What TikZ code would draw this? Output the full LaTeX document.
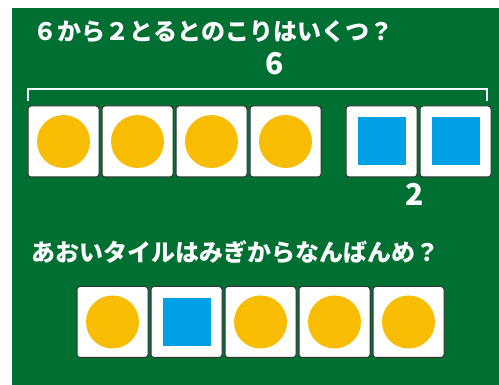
\documentclass[tikz,border=0pt]{standalone}
\usepackage{fontspec}
\newfontfamily\jpfont{Noto Sans CJK JP}
\usetikzlibrary{positioning}
\definecolor{board}{RGB}{0,112,50}
\definecolor{ballcol}{RGB}{248,188,0}
\definecolor{tilecol}{RGB}{0,160,230}

\begin{document}
\begin{tikzpicture}[x=1pt,y=-1pt]
     \tikzstyle{every node}=[font=\jpfont\bfseries\fontsize{24}{24}\selectfont,text=white]
     \tikzstyle{num}=[font=\jpfont\bfseries\fontsize{30}{30}\selectfont]
     \tikzstyle{tile}=[draw=black!80,fill=white,line width=1pt,rounded corners=3pt,minimum size=71pt,inner sep=0pt]
     \tikzstyle{ball}=[circle,fill=ballcol,minimum size=53pt,inner sep=0pt]
     \tikzstyle{sq}=[fill=tilecol,minimum size=48pt,inner sep=0pt]
      \useasboundingbox (0,0) rectangle (499,385);
      \fill [board] (12,8) rectangle (499,385);
      % question 1
      \node [anchor=west] (q1) at (30,32) {６から２とるとのこりはいくつ？};
      \node [tile] (a1) at (63.5,141.5) {};
      \node [tile,right=2pt of a1] (a2) {};
      \node [tile,right=2pt of a2] (a3) {};
      \node [tile,right=2pt of a3] (a4) {};
      \node [tile,right=24pt of a4] (a5) {};
      \node [tile,right=2pt of a5] (a6) {};
      \node [ball] at (a1) {};
      \node [ball] at (a2) {};
      \node [ball] at (a3) {};
      \node [ball] at (a4) {};
      \node [sq] at (a5) {};
      \node [sq] at (a6) {};
      \coordinate (BL) at (28,101);
      \coordinate (TL) at (28,89);
      \coordinate (TR) at (487,89);
      \coordinate (BR) at (487,101);
      \draw [white,line width=2pt] (BL) -- (TL) -- (TR) -- (BR);
      \node [num] (six) at (274.5,64) {6};
      \node [num] (two) at (414.5,194) {2};
      % question 2
      \node [anchor=west] (q2) at (28,252) {あおいタイルはみぎからなんばんめ？};
      \node [tile] (b1) at (112.5,322) {};
      \node [tile,right=2pt of b1] (b2) {};
      \node [tile,right=2pt of b2] (b3) {};
      \node [tile,right=2pt of b3] (b4) {};
      \node [tile,right=2pt of b4] (b5) {};
      \node [ball] at (b1) {};
      \node [sq] at (b2) {};
      \node [ball] at (b3) {};
      \node [ball] at (b4) {};
      \node [ball] at (b5) {};
    \end{tikzpicture}
\end{document}
